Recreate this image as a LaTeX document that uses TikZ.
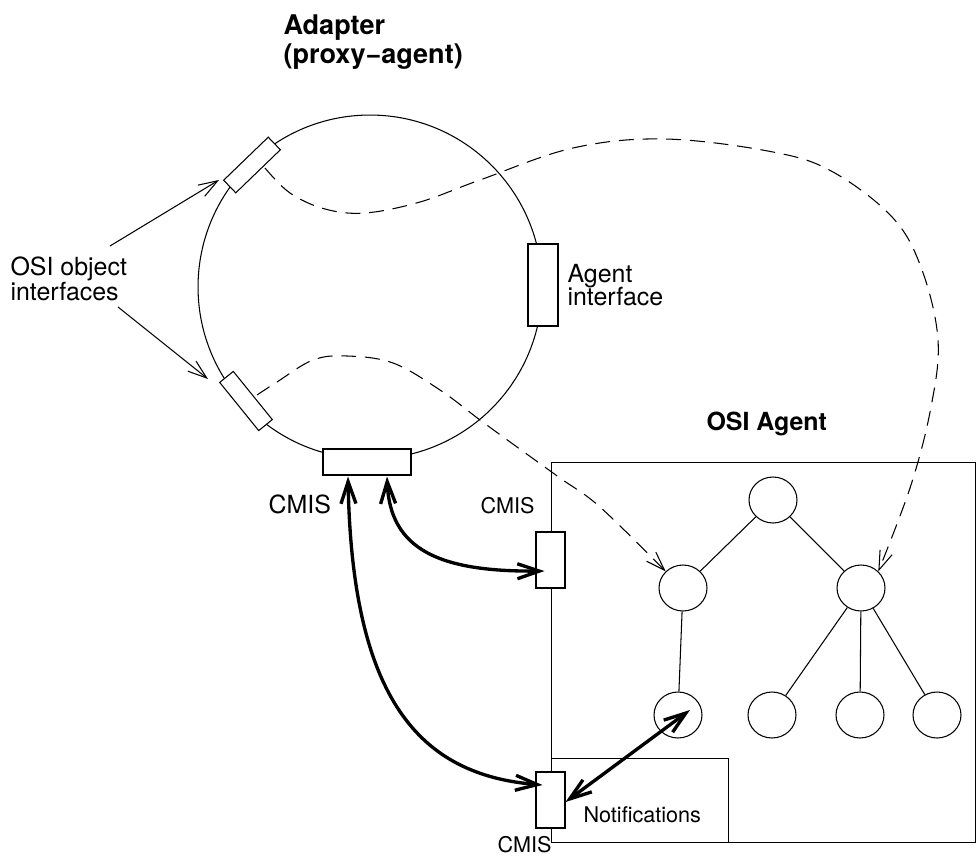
\documentclass[tikz,border=0pt]{standalone}
\usepackage{fontspec}
\setmainfont{TeX Gyre Heros}
\usetikzlibrary{arrows.meta,calc,shapes.geometric}
\begin{document}
\begin{tikzpicture}[x=0.02cm,y=-0.02cm, line width=0.6pt,
  box/.style={draw, fill=white, inner sep=0pt, line width=0.6pt},
  obj/.style={draw, ellipse, inner sep=0pt, minimum width=0.96cm, minimum height=0.92cm},
  lbl/.style={anchor=base west, inner sep=0pt, font=\fontsize{14.2}{16}\selectfont},
  slbl/.style={anchor=base west, inner sep=0pt, font=\fontsize{12.3}{14}\selectfont},
  blbl/.style={anchor=base west, inner sep=0pt, font=\bfseries\fontsize{15.4}{18}\selectfont},
  bslbl/.style={anchor=base west, inner sep=0pt, font=\bfseries\fontsize{14.2}{16}\selectfont},
  thinarrow/.style={-{Straight Barb[length=0.38cm,width=0.26cm]}},
  dashlink/.style={dash pattern=on 8.5pt off 5pt, -{Straight Barb[length=0.38cm,width=0.26cm]}},
  thicklink/.style={line width=1.9pt, {Straight Barb[length=0.44cm,width=0.3cm]}-{Straight Barb[length=0.44cm,width=0.3cm]}},
]
\useasboundingbox (0,0) rectangle (980,855);

% adapter
\node[draw, circle, minimum size=6.88cm, inner sep=0pt] (adapter) at (370,287) {};
\node[box, rotate=44, minimum width=1.24cm, minimum height=0.35cm] (oi1) at (252,165) {};
\node[box, rotate=-51, minimum width=1.24cm, minimum height=0.35cm] (oi2) at (246,401) {};
\node[box, minimum width=0.6cm, minimum height=1.64cm] (agentif) at (543,285) {};
\node[box, minimum width=1.76cm, minimum height=0.52cm] (cmisA) at (367,462) {};

% OSI agent
\node[draw, inner sep=0pt, minimum width=8.48cm, minimum height=7.6cm, anchor=north west] (agent) at (551,462) {};
\node[draw, inner sep=0pt, minimum width=3.54cm, minimum height=1.68cm, anchor=south west] (notifbox) at (agent.south west) {};
\node[box, minimum width=0.58cm, minimum height=1.12cm] (cmis1) at (550.5,560) {};
\node[box, minimum width=0.58cm, minimum height=1.12cm] (cmis2) at (550.5,800) {};

% tree
\node[obj] (root) at (773,500) {};
\node[obj] (n1) at (683,588) {};
\node[obj] (n2) at (861,588) {};
\node[obj] (l1) at (678,715) {};
\node[obj] (l2) at (772,715) {};
\node[obj] (l3) at (860,715) {};
\node[obj] (l4) at (937,715) {};
\draw (root) -- (n1);
\draw (root) -- (n2);
\draw (n1) -- (l1);
\draw (n2) -- (l2);
\draw (n2) -- (l3);
\draw (n2) -- (l4);

% texts
\node[blbl] (title1) at (283,35) {Adapter};
\node[blbl] (title2) at (283,64) {(proxy−agent)};
\node[lbl] (osi1) at (10,275) {OSI object};
\node[lbl] (osi2) at (10,300) {interfaces};
\node[lbl] (ai1) at (567,282) {Agent};
\node[lbl] (ai2) at (567,305) {interface};
\node[lbl] (cmisAl) at (268,513) {CMIS};
\node[bslbl] (osiagent) at (706,430) {OSI Agent};
\node[slbl] (cmis1l) at (480,513) {CMIS};
\node[slbl] (notif) at (583,822) {Notifications};
\node[slbl] (cmis2l) at (497,852) {CMIS};

% thin arrows from label
\coordinate (o1) at (110,246);
\coordinate (o2) at (118,307);
\coordinate (oi1tip) at (219,180);
\coordinate (oi2tip) at (208,379);
\draw[thinarrow] (o1) -- (oi1tip);
\draw[thinarrow] (o2) -- (oi2tip);

% dashed links
\coordinate (d1s) at (265,168);
\coordinate (d2s) at (257,395);
\draw[dashlink] plot[smooth, tension=0.6] coordinates {(d1s) (290,193) (325,209) (365,213) (420,202) (480,180) (573,148) (665,139) (773,152) (833,172) (893,218) (922,270) (938,340) (931,407) (911,485) (n2.north east)};
\draw[dashlink] plot[smooth, tension=0.6] coordinates {(d2s) (277,382) (313,360) (347,356) (393,363) (440,390) (480,420) (517,447) (560,478) (600,507) (n1.north west)};

% thick CMIS links
\draw[thicklink] ($(cmisA.south)+(-19,1)$) .. controls (352,700) and (420,775) .. ($(cmis2.center)+(-8,-15)$);
\draw[thicklink] ($(cmisA.south)+(20,1)$) .. controls (390,550) and (440,572) .. ($(cmis1.center)+(-6,11)$);
\draw[thicklink] ($(cmis2.east)+(0,2)$) -- ($(l1.center)+(12,-5)$);
\end{tikzpicture}
\end{document}
